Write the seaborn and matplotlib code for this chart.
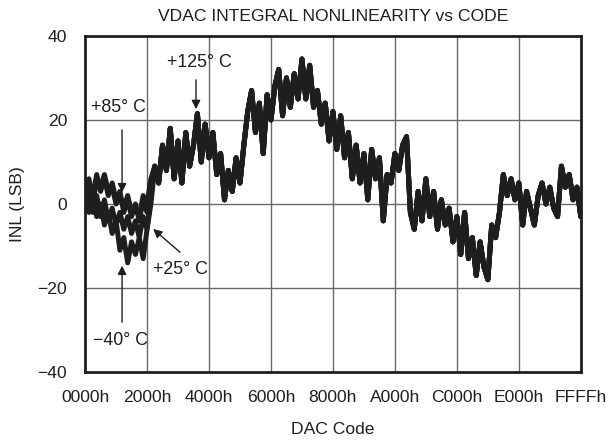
import numpy as np
import pandas as pd
import seaborn as sns
import matplotlib.pyplot as plt

# DAC code step between readings (0x200)
step = 512

# left part, where the temperatures split (0000h .. 2200h)
inl_85 = [0, 5, 2, 7, 3, 6, 2, 5, 1, 3, -2, 1, -3, 0, -4, 1, -2, 5]
inl_125 = [-1, 6, 1, 5, 4, 7, 3, 4, 0, 2, -1, 2, -2, -1, -3, 2, 0, 6]
inl_25 = [-1, 3, -2, 2, -3, 1, -4, -1, -5, -2, -6, -3, -7, -4, -8, -3, -6, 2]
inl_m40 = [1, -2, 2, -3, 0, -5, -2, -7, -4, -11, -8, -14, -9, -12, -8, -13, -6, 0]

# common part (2400h .. FFFFh), all temperatures overlap
inl_common = [9, 5, 14, 8, 18, 6, 15, 5, 17, 9, 14, 21.5, 10, 19, 11, 17, 7, 12,
              1, 8, 3, 11, 5, 14, 22, 27, 17, 24, 12, 26, 20, 28, 32, 21, 30, 23,
              31, 25, 34.5, 25, 33, 23, 27, 19, 24, 15, 22, 13, 21, 11, 17, 6,
              14, 5, 12, 1, 13, 6, 11, -4, 7, 5, 12, 8, 14, 16, -2, -6, 3, -4,
              6, -3, 3, -6, 1, -5, -1, -9, -3, -12, -2, -13, -8, -17, -9, -15,
              -18, -5, -8, -2, 7, 2, 6, 1, 5, -5, 3, -1, -5, 2, 5, 0, 4, -1, -3,
              9, 4, 7, 1, 4, -3]

temps = ["+85°C", "+125°C", "+25°C", "−40°C"]
series = [inl_85, inl_125, inl_25, inl_m40]

rows = []
for t, left in zip(temps, series):
    vals = left + inl_common
    for i, v in enumerate(vals):
        rows.append({"code": min(i * step, 65535), "inl": v, "temp": t})
df = pd.DataFrame(rows)

xtick_vals = [0x0000, 0x2000, 0x4000, 0x6000, 0x8000, 0xA000, 0xC000, 0xE000, 0xFFFF]
xtick_labels = ["0000h", "2000h", "4000h", "6000h", "8000h", "A000h", "C000h", "E000h", "FFFFh"]
ytick_vals = [-40, -20, 0, 20, 40]

sns.set_style("white")
plt.rcParams["font.family"] = ["Liberation Sans", "DejaVu Sans"]

fig = plt.figure(figsize=(6.12, 4.43), dpi=100)
ax = fig.add_axes([0.139, 0.160, 0.810, 0.759])

for x in xtick_vals[1:-1]:
    ax.axvline(x, color="#6a6a6a", lw=1.0, zorder=0)
for y in ytick_vals[1:-1]:
    ax.axhline(y, color="#6a6a6a", lw=1.0, zorder=0)

sns.lineplot(data=df, x="code", y="inl", units="temp", estimator=None,
             color="#1e1e1e", lw=3.6, ax=ax, legend=False)

ax.set_xlim(0, 65535)
ax.set_ylim(-40, 40)
ax.set_xticks(xtick_vals)
ax.set_xticklabels(xtick_labels)
ax.set_yticks(ytick_vals)
ax.set_yticklabels(["−40", "−20", "0", "20", "40"])
ax.tick_params(axis="both", length=0, labelsize=12.6, colors="#1e1e1e")
ax.tick_params(axis="x", pad=13)
ax.tick_params(axis="y", pad=13)
for s in ax.spines.values():
    s.set_color("#1e1e1e")
    s.set_linewidth(2.0)

ax.set_xlabel("DAC Code", fontsize=12.6, labelpad=12, color="#1e1e1e")
ax.set_ylabel("INL (LSB)", fontsize=12.6, labelpad=9, color="#1e1e1e")
ax.set_title("VDAC INTEGRAL NONLINEARITY vs CODE", fontsize=12.6, pad=11, color="#1e1e1e")

arrow = dict(arrowstyle="-|>", color="#1e1e1e", lw=1.0, mutation_scale=13)
txt = dict(fontsize=12.8, color="#1e1e1e", ha="center", va="center")
ax.annotate("", xy=(4889, 2.1), xytext=(4889, 18.3), arrowprops=arrow)
ax.text(4360, 22.9, "+85° C", **txt)
ax.annotate("", xy=(14666, 21.9), xytext=(14666, 30.2), arrowprops=arrow)
ax.text(15063, 33.6, "+125° C", **txt)
ax.annotate("", xy=(8720, -5.5), xytext=(12816, -11.9), arrowprops=arrow)
ax.text(12552, -15.5, "+25° C", **txt)
ax.annotate("", xy=(4889, -14.0), xytext=(4889, -28.8), arrowprops=arrow)
ax.text(4625, -32.4, "−40° C", **txt)

fig.savefig("out.png", dpi=100)
